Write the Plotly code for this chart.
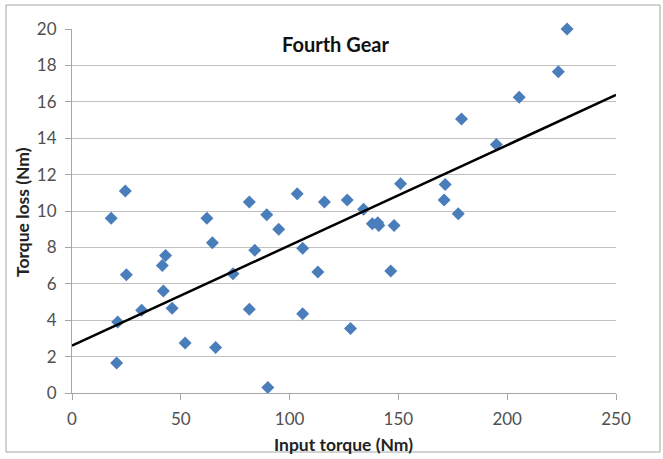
import plotly.graph_objects as go

# Data
input_torque = [18, 62, 89.5, 95, 64.5, 84, 106, 43, 41.5, 25, 74, 113, 42, 32, 46,
                81.5, 106, 21, 128, 52, 66, 20.5, 90, 24.5, 81.5, 103.5, 116, 126.5,
                227.5, 223.5, 205.5, 179, 195, 151, 171.5, 171, 134, 177.5, 138,
                140.5, 141, 148, 146.5]
torque_loss = [9.6, 9.6, 9.8, 9.0, 8.25, 7.85, 7.95, 7.55, 7.0, 6.5, 6.55, 6.65, 5.6,
               4.55, 4.65, 4.6, 4.35, 3.9, 3.55, 2.75, 2.5, 1.65, 0.3, 11.1, 10.5,
               10.95, 10.5, 10.6, 20.0, 17.65, 16.25, 15.05, 13.65, 11.5, 11.45, 10.6,
               10.1, 9.85, 9.3, 9.35, 9.2, 9.2, 6.7]
x_ticks = [0, 50, 100, 150, 200, 250]
y_ticks = [0, 2, 4, 6, 8, 10, 12, 14, 16, 18, 20]
# Linear trendline as drawn in the reference (intercept, slope)
trend_coef = [2.6, 0.0551]
trend_x = [0, 250]
trend_y = [trend_coef[0] + trend_coef[1] * v for v in trend_x]

fig = go.Figure()
fig.add_trace(go.Scatter(x=input_torque, y=torque_loss, mode="markers",
                         marker=dict(symbol="diamond", size=10, color="#4A7EBB"),
                         cliponaxis=False, showlegend=False))
fig.add_trace(go.Scatter(x=trend_x, y=trend_y, mode="lines",
                         line=dict(color="black", width=2.5), showlegend=False))

W, H = 663, 459
L, R, T, B = 72, 616, 29, 393
pw, ph = R - L, B - T

def px(x):
    return (x - L) / pw

def py(y):
    return (B - y) / ph

font_family = "Lato, Open Sans, sans-serif"

fig.add_shape(type="rect", xref="paper", yref="paper",
              x0=px(6), x1=px(660), y0=py(452), y1=py(5),
              line=dict(color="#A6A6A6", width=1), layer="below")

fig.add_annotation(text="<b>Fourth Gear</b>", xref="paper", yref="paper",
                   x=px(335), y=py(44), showarrow=False, xanchor="center", yanchor="middle",
                   font=dict(family=font_family, size=20, color="#111"))
fig.add_annotation(text="<b>Input torque (Nm)</b>", xref="paper", yref="paper",
                   x=px(343), y=py(444), showarrow=False, xanchor="center", yanchor="middle",
                   font=dict(family=font_family, size=17.5, color="#222"))
fig.add_annotation(text="<b>Torque loss (Nm)</b>", xref="paper", yref="paper",
                   x=px(22), y=py(212), showarrow=False, xanchor="center", yanchor="middle",
                   textangle=-90,
                   font=dict(family=font_family, size=17.5, color="#222"))

fig.update_layout(
    width=W, height=H,
    margin=dict(l=L, r=W - R, t=T, b=H - B),
    plot_bgcolor="white", paper_bgcolor="white",
    font=dict(family=font_family, size=17, color="#505050"),
    xaxis=dict(range=[0, 250], tickvals=x_ticks, showgrid=False, zeroline=False,
               showline=True, linecolor="#A6A6A6", linewidth=1,
               ticks="outside", ticklen=6, tickcolor="#A6A6A6",
               ticklabelstandoff=5),
    yaxis=dict(range=[0, 20], tickvals=y_ticks, showgrid=True, gridcolor="#C0C0C0",
               gridwidth=1, zeroline=False,
               showline=True, linecolor="#A6A6A6", linewidth=1,
               ticks="outside", ticklen=6, tickcolor="#A6A6A6",
               ticklabelstandoff=5),
)

fig.write_html("out.html", config={"displayModeBar": False},
               post_script="document.body.style.margin='0';")
